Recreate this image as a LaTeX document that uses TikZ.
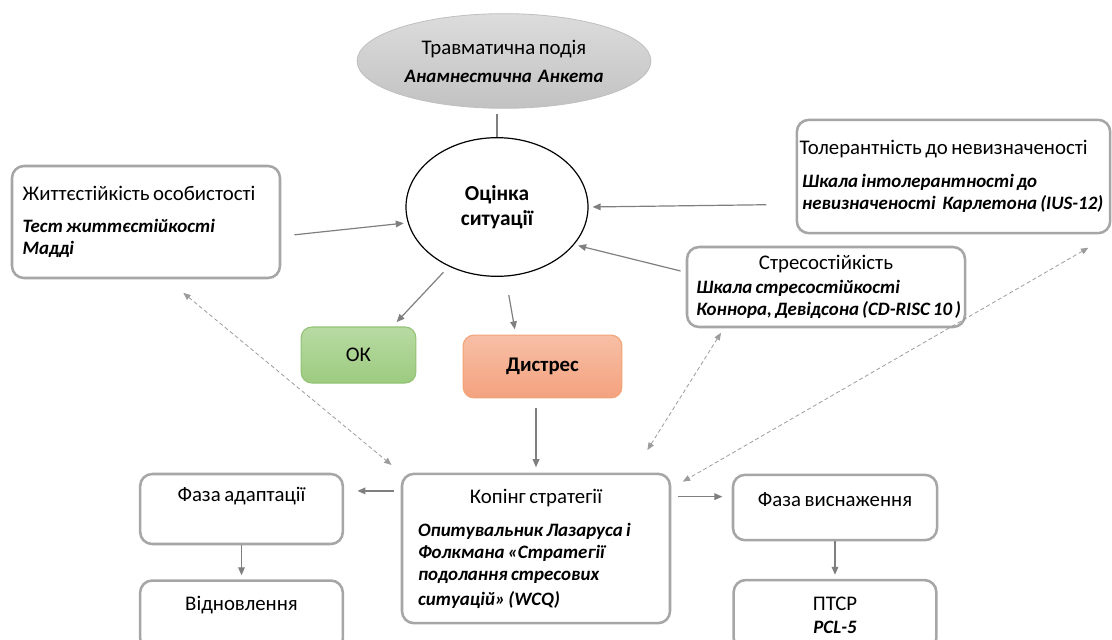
\documentclass[tikz,border=0pt]{standalone}
\usepackage{fontspec}
\setmainfont{Carlito}[WordSpace=0.75]
\usetikzlibrary{positioning, shapes.geometric, arrows.meta}
\definecolor{BoxGray}{HTML}{A6A6A6}
\definecolor{ArrowGray}{HTML}{7F7F7F}
\definecolor{DashGray}{HTML}{9C9C9C}
\definecolor{EventTop}{HTML}{DCDCDC}
\definecolor{EventBottom}{HTML}{C2C2C2}
\definecolor{EventLine}{HTML}{BFBFBF}
\definecolor{OkTop}{HTML}{B7DAA2}
\definecolor{OkBottom}{HTML}{9DCB80}
\definecolor{OkLine}{HTML}{92C275}
\definecolor{DisTop}{HTML}{F7BFA6}
\definecolor{DisBottom}{HTML}{F4A27F}
\definecolor{DisLine}{HTML}{F2A274}
\newcommand*{\toolfont}{\fontsize{14.2}{16.5}\selectfont\bfseries\itshape}

\begin{document}
\begin{tikzpicture}[
				x=0.75pt, y=-0.75pt,
				font=\fontsize{15.6}{16.5}\selectfont,
				mybox/.style={
					draw=BoxGray,
					line width=1.9pt,
					rounded corners=9pt,
					fill=white,
					inner xsep=8pt,
					inner ysep=3pt,
					align=flush left
				},
				phase/.style={
					mybox,
					align=center,
					minimum width=152pt,
					minimum height=52.5pt,
					text height=10pt
				},
				event/.style={
					ellipse,
					draw=EventLine,
					line width=0.6pt,
					top color=EventTop,
					bottom color=EventBottom,
					minimum width=201pt,
					minimum height=71pt,
					align=center
				},
				appraisal/.style={
					ellipse,
					draw=black,
					line width=0.9pt,
					minimum width=136.5pt,
					minimum height=104pt,
					align=center,
					font=\fontsize{16}{19}\selectfont\bfseries
				},
				outcome/.style={
					rounded corners=8pt,
					line width=0.8pt,
					align=center
				},
				arrow/.style={
					-{Triangle[length=6pt,width=5pt]},
					line width=0.9pt,
					draw=ArrowGray
				},
				link/.style={
					line width=0.9pt,
					draw=ArrowGray
				},
				dblarrow/.style={
					{Triangle[length=5.5pt,width=4.5pt]}-{Triangle[length=5.5pt,width=4.5pt]},
					densely dashed,
					line width=0.6pt,
					draw=DashGray
				}
				]
				\useasboundingbox (0,0) rectangle (1112,639);
				\node[event] (ev) at (504,61) {Травматична подія\\[4.5pt]{\toolfont Анамнестична\ \ Анкета}};
				\node[appraisal] (oc) at (497,207) {Оцінка\\ситуації};
				\node[mybox, text width=185pt, minimum height=84pt] (zh) at (146,222) {Життєстійкість особистості\\[8pt]{\toolfont Тест життєстійкості\\Мадді}};
				\node[mybox, inner xsep=2pt, text width=231pt, minimum height=85pt] (tol) at (953.5,176.5) {Толерантність до невизначеності\\[8pt]{\toolfont \hspace*{2pt}Шкала інтолерантності до\\\hspace*{2pt}невизначеності\ \ Карлетона (IUS-12)}};
				\node[mybox, inner xsep=3pt, text width=202.5pt, minimum height=60pt] (st) at (826,287) {\makebox[\linewidth]{Стресостійкість}\\[1pt]{\toolfont \hspace*{4pt}Шкала стресостійкості\\\hspace*{4pt}Коннора, Девідсона (CD-RISC 10 )}};
				\node[outcome, draw=OkLine, top color=OkTop, bottom color=OkBottom, minimum width=86pt, minimum height=42pt] (ok) at (358.5,355) {ОК};
				\node[outcome, draw=DisLine, top color=DisTop, bottom color=DisBottom, minimum width=119pt, minimum height=47pt, font=\fontsize{15.6}{16.5}\selectfont\bfseries] (ds) at (542.5,366.5) {Дистрес};
				\node[mybox, inner xsep=12pt, text width=177pt, minimum height=112pt, font=\fontsize{15.6}{18.2}\selectfont] (kp) at (536,548.5) {\makebox[\linewidth]{Копінг стратегії}\\[8.8pt]{\toolfont Опитувальник Лазаруса і\\Фолкмана «Стратегії\\подолання стресових\\ситуацій» (WCQ)}};
				\node[phase, text depth=22pt] (fa) at (241.5,509) {Фаза адаптації};
				\node[phase, text depth=17.5pt, below=25.5pt of fa] (vd) {Відновлення};
				\node[phase, text depth=12pt, minimum width=153pt, minimum height=49pt] (fv) at (835,507.5) {Фаза виснаження};
				\node[phase, text height=, minimum width=152pt, font=\fontsize{15.6}{17}\selectfont, below=28pt of fv] (pt) {ПТСР\\{\toolfont PCL-5}};
				\draw[link, shorten <=3.75pt] (ev.south -| oc.north) -- (oc.north);
				\draw[arrow, shorten <=10pt, shorten >=3pt] (zh.-6) -- (oc.190);
				\draw[arrow, shorten <=22pt, shorten >=3pt] (tol.190) -- (oc.east);
				\draw[arrow, shorten <=4pt, shorten >=3pt] (st.174) -- (oc.-26);
				\draw[arrow, shorten <=6pt, shorten >=4.5pt] (oc.231) -- (ok.40);
				\draw[arrow, shorten <=14pt, shorten >=4pt] (oc.-83) -- (ds.130);
				\draw[arrow, shorten <=7pt, shorten >=4pt] (ds.south -| kp.north) -- (kp.north);
				\draw[arrow, shorten <=5pt, shorten >=10pt] (kp.west |- fa.10) -- (fa.10);
				\draw[arrow, shorten <=5pt, shorten >=7pt] (kp.east |- fv.174) -- (fv.174);
				\draw[arrow, shorten >=3pt] (fa) -- (vd);
				\draw[arrow, shorten >=3pt] (fv) -- (pt);
				\draw[dblarrow, shorten <=16pt, shorten >=9pt] (zh.-70) -- (kp.north west);
				\draw[dblarrow, shorten <=4pt, shorten >=20pt] (st.202) -- (kp.38);
				\draw[dblarrow, shorten <=20pt, shorten >=10pt] (tol.south east) -- (kp.24);
			\end{tikzpicture}
\end{document}
